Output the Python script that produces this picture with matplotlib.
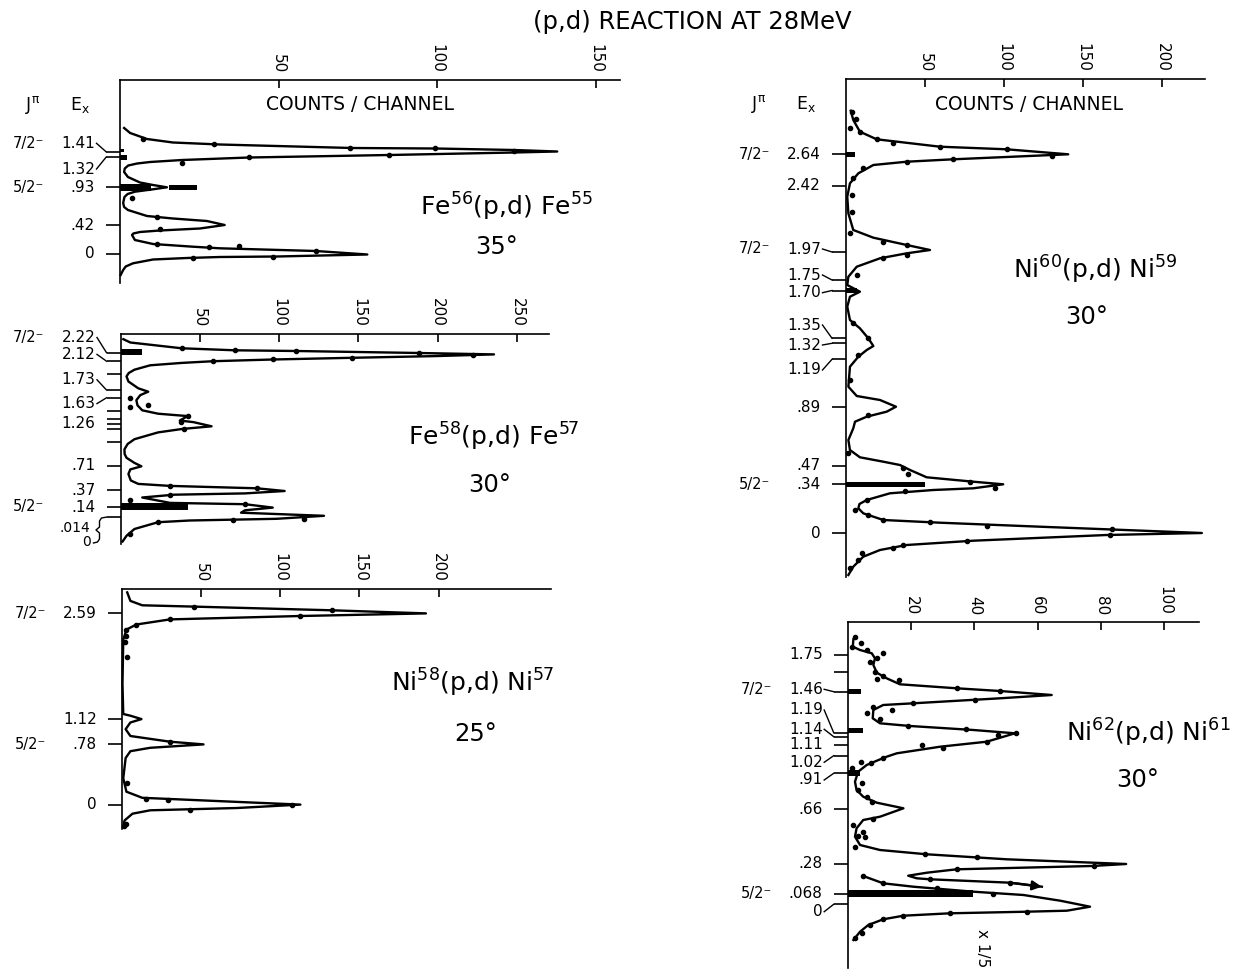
import matplotlib
matplotlib.use("Agg")
import matplotlib.pyplot as plt
from matplotlib import transforms

plt.rcParams['font.family'] = 'DejaVu Sans'
plt.rcParams['mathtext.default'] = 'regular'

# ---------------- data (counts on x, channel on y) ----------------

# Fe56(p,d)Fe55, 35 deg
fe56_curve_counts = [1.3, 3.2, 8.5, 16.7, 31.5, 73.2, 99.4, 124.3, 137.9, 124.3, 84.9, 40.7, 19.6, 9.5, 5.4,
                     2.6, 1.5, 1.3, 2.5, 6.3, 10.4, 14.8, 10.4, 4.7, 2.4, 1.4, 1.0, 1.3, 2.5, 8.5, 16.7, 27.4,
                     33, 25.2, 12.6, 6.3, 4.2, 3.8, 4.7, 10.4, 23, 31.5, 61.8, 78, 49.5, 31.5, 21.1, 10.4,
                     4.1, 1.8, 1.0, 0.2]
fe56_curve_ch = [48, 53, 59, 62.5, 64.5, 68, 68.5, 70, 71.5, 72.5, 75, 77.5, 80, 82, 83.5,
                 85.5, 88.5, 92, 97, 102.5, 105, 107.3, 109.3, 111.7, 114, 117, 123, 127, 130, 136, 138.5, 141,
                 145, 148.5, 150.5, 152, 153.5, 155, 160, 164, 166.7, 168.3, 171, 174.5, 176.5, 177, 178, 179.5,
                 183.3, 186.5, 190, 195]
fe56_dot_counts = [7.3, 29.7, 72.6, 99.4, 124.3, 84.9, 40.7, 19.5, 3.7, 11.8, 12.6, 11.7, 28, 37.5, 61.8, 48.3, 22.9]
fe56_dot_ch = [59.3, 64.3, 68, 68.5, 71, 75, 77.3, 82.7, 118.3, 136.7, 149, 164, 166.7, 166.4, 170.5, 177, 177.5]
fe56_bar_left = [0, 0, 0, 15.5]
fe56_bar_width = [1.3, 2.3, 9.7, 8.7]
fe56_bar_ch = [71, 77.5, 107.3, 107.5]
fe56_levels = ['1.41', '1.32', '.93', '.42', '0']
fe56_level_ch = [71.7, 77.3, 107.3, 145.3, 174]
fe56_jpi = ['7/2\u207b', '5/2\u207b']
fe56_xticks = [50, 100, 150]

# Fe58(p,d)Fe57, 30 deg
fe58_curve_counts = [1.8, 6.2, 38.7, 72.2, 110.9, 188.2, 235.5, 198.3, 145.8, 96, 58.6, 38.7, 18.7, 8.8,
                     5.2, 3.8, 5, 11.2, 17.5, 12.5, 10, 10.7, 13.7, 23.7, 42.4, 37.4, 46.2, 57.4, 38.7, 23.7,
                     8.8, 4.5, 2.5, 2.6, 3.8, 8.8, 13.2, 6.2, 5, 6.5, 11.2, 31.2, 86, 103.5, 78.5, 33.7, 13.7,
                     31.2, 78.5, 96, 78.5, 76, 128.3, 98.5, 43.6, 23.7, 8.8, 3.8, 1.3]
fe58_curve_ch = [5.2, 8.5, 14.3, 16.3, 17, 19, 20.4, 22.1, 23.8, 25.5, 27.2, 28.9, 31.3, 35.7,
                 39, 42.4, 47.5, 54.3, 57.7, 61.1, 66.2, 71.3, 76.3, 79.7, 82.1, 86.5, 88.2, 92.3, 95, 98.4,
                 105.2, 110, 115.3, 120, 123.8, 128.9, 132.3, 135.4, 140, 146.5, 149.9, 151.9, 154.3, 157, 159.4,
                 160.7, 163.5, 168.9, 170.2, 173.6, 176.3, 178.7, 181.8, 184.8, 186.5, 188.2, 195, 201.8, 207.5]
fe58_dot_counts = [38.7, 72.2, 110.9, 188.2, 222, 145.8, 96, 58.6, 6.2, 6.2, 17.5, 42.4, 40.3, 38,
                   31.2, 86, 31.2, 6.2, 78.5, 71, 115.7, 23.7, 6.2]
fe58_dot_ch = [14.3, 16.3, 17, 19, 21.3, 23.8, 25.5, 27.2, 64.5, 73, 71.3, 82, 95, 88,
               151.9, 154.3, 160.7, 166.2, 170.2, 185.5, 184.8, 188.2, 200]
fe58_bar_left = [0, 0]
fe58_bar_width = [13.7, 42.4]
fe58_bar_ch = [18.2, 172.3]
fe58_levels = ['2.22', '2.12', '1.73', '1.63', '1.26', '.71', '.37', '.14', '.014', '0']
fe58_level_ch = [18.7, 27.2, 56, 63.8, 89.9, 131.6, 156, 173, 183.1, 183.1]
fe58_extra_ticks = [40.1, 77, 85.5, 95, 108.5]
fe58_jpi = ['7/2\u207b', '5/2\u207b']
fe58_xticks = [50, 100, 150, 200, 250]

# Ni58(p,d)Ni57, 25 deg
ni58_curve_counts = [3.3, 5.3, 12.8, 45.3, 132.7, 192, 112.7, 30.3, 9.1, 2.8, 0.8, 0.3, 0.8, 5.3, 12.3,
                     5.3, 2.3, 5.3, 30.3, 51.5, 17.8, 5.3, 2.3, 0.8, 2.8, 12.8, 72.8, 112.7, 72.8, 17.8,
                     6.6, 1.6, 0.8]
ni58_curve_ch = [3.4, 11.9, 16.3, 17.6, 21.3, 24.4, 27, 30.4, 35.5, 40.6, 50.7, 94.6, 125, 126.7, 130.1,
                 133.5, 140.2, 147, 152.7, 155.4, 158.8, 162.2, 169, 189.2, 202.7, 208.8, 212.9, 215.6, 219, 221.3,
                 224.7, 231.5, 238.2]
ni58_dot_counts = [45.3, 132.7, 112.7, 30.3, 9.1, 2.8, 2.7, 2.2, 3.3, 30.3, 3.3, 15.2, 29, 42.8, 107.7, 2.3, 1.5]
ni58_dot_ch = [17.6, 21.3, 27, 30.4, 35.5, 40.6, 46.7, 52.5, 68.3, 152.7, 194.3, 209.5, 211, 220.7, 216.3, 234.8, 237]
ni58_levels = ['2.59', '1.12', '.78', '0']
ni58_level_ch = [24.4, 130, 155.4, 215.6]
ni58_jpi = ['7/2\u207b', '5/2\u207b']
ni58_xticks = [50, 100, 150, 200]

# Ni60(p,d)Ni59, 30 deg
ni60_curve_counts = [3, 4.6, 8.8, 19.4, 59.4, 101.6, 140.5, 67.8, 38.4, 17.3, 7.8, 2.5, 0.8, 1.5, 4.6,
                     17.3, 38.4, 53.1, 38.4, 21.5, 6.8, 1.5, 0.8, 8.8, 2.5, 0.8, 2.5, 8.8, 14.1, 17.3,
                     13.1, 7.8, 2.5, 1.5, 6.8, 21.5, 31.6, 25.7, 13.1, 5.7, 4.6, 1.5, 2.5, 8.8, 23.6,
                     34.1, 40.5, 51, 80.5, 99.4, 80.5, 55.2, 27.8, 13.1, 8.5, 7.8, 10.9, 23.6, 59.4, 122.6,
                     225, 164.8, 80.5, 38.4, 21.5, 10.9, 4.6, 1.5]
ni60_curve_ch = [31.7, 41, 52.7, 60.3, 67.7, 70.3, 75.3, 80.3, 82.7, 86, 94.3, 104.3, 117.7, 134.3, 151,
                 158.7, 166, 171, 174.3, 179.3, 187.7, 197.7, 206, 212.7, 217.7, 227.7, 241, 249.3, 259.3, 267,
                 271, 277.7, 287.7, 307.7, 317, 321, 327.7, 332.7, 337.7, 342.7, 349.3, 361, 371, 378.3, 382.7,
                 386, 391, 398.3, 402.7, 405.3, 409.3, 411, 414.3, 421, 425, 429.3, 434.3, 441, 443.7, 447.7,
                 454, 456, 461.7, 466, 471, 477.7, 487.7, 496]
ni60_dot_counts = [3.6, 6.1, 2.5, 8.8, 19.4, 29.9, 59.4, 101.6, 130, 67.8, 38.4, 10.9, 4.6, 3.6, 3.6,
                   2.5, 23.6, 38.4, 38.4, 23.6, 6.8, 4.6, 14.1, 7.8, 2.5, 14.1, 1.5, 36.2, 39.4, 78.4,
                   94.2, 37.3, 13.1, 5.7, 14.1, 23.6, 53.1, 88.9, 168, 166.9, 76.3, 36.2, 29.9, 9.9,
                   7.8, 2.5]
ni60_dot_ch = [32.7, 40, 49.3, 52.7, 60.3, 63.7, 67.7, 70.3, 77, 80.3, 82.7, 89.3, 99.3, 116, 132.7,
               153.7, 162.7, 166, 176, 179.3, 196, 244.3, 259.3, 276, 301, 336, 374.3, 389.3, 395, 402.7,
               408.7, 411.7, 421, 431, 436, 441, 442.7, 446.7, 450.3, 456, 461.7, 466, 469.3, 474.3,
               481, 489.3]
ni60_bar_left = [0, 0, 0]
ni60_bar_width = [5.7, 6.7, 50]
ni60_bar_ch = [75.2, 211.5, 405.5]
ni60_levels = ['2.64', '2.42', '1.97', '1.75', '1.70', '1.35', '1.32', '1.19', '.89', '.47', '.34', '0']
ni60_level_ch = [75.3, 106.7, 173, 201, 211.5, 259.3, 264.3, 280.3, 328.3, 386.7, 405.3, 454.3]
ni60_jpi = ['7/2\u207b', '7/2\u207b', '5/2\u207b']
ni60_xticks = [50, 100, 150, 200]

# Ni62(p,d)Ni61, 30 deg
ni62_curve_counts = [1.8, 1.6, 3.9, 7.6, 8.6, 8.1, 9.2, 12.3, 16.5, 34.4, 48.1, 64.4, 48.1, 20.7, 11.2,
                     8.1, 7.9, 10.2, 19.7, 39.7, 52.8, 43.9, 29.2, 15.5, 12.3, 9.2, 6, 3.3, 2.3, 2.8,
                     4.9, 9.2, 17.6, 10.2, 4.9, 2.8, 2.3, 3.9, 10.2, 25, 50.2, 87.9, 77.1, 34.4, 25,
                     19.1, 21.8, 26, 51.3, 61.3]
ni62_curve_ch = [17, 24.4, 27.7, 31, 36, 42.7, 50.4, 56, 62, 66, 68.7, 72.7, 76, 81, 82.7,
                 87.7, 96, 101, 103.7, 107.7, 111, 119.4, 124.4, 131, 134.4, 138.4, 142.7, 149.4, 159.4, 167.7,
                 174.4, 180.4, 186, 194.4, 197.7, 206, 214.4, 222.7, 227.7, 232, 237, 241.7, 243.7, 247, 250.4,
                 253.4, 256, 257, 260.4, 264.4]
ni62_fifth_counts = [4.9, 11.2, 20.7, 39.7, 55.5, 67.1, 76.5, 69.2, 56.5, 32.3, 17.6, 11.2, 6.5, 3.9, 1.8]
ni62_fifth_ch = [253.7, 261, 264.4, 269.4, 272.7, 278.4, 284.4, 288.4, 289.4, 291, 293.4, 297, 302.7, 309.4, 317.7]
ni62_dot_counts = [2.3, 4.1, 1.5, 6.2, 11.1, 9.2, 7, 8.6, 9.4, 11.2, 16.3, 34.4, 48.1, 40.2, 20.7,
                   8.1, 13.9, 6.2, 10.2, 19.1, 37.4, 47.6, 53.2, 43.9, 30, 23.4, 11.2, 7.4, 4.1, 1.3,
                   4.4, 3.3, 6, 7.6, 8.1, 1.6, 4.9, 3.3, 5.5, 2.3, 24.4, 40.7, 77.6, 34.4, 26,
                   51.3, 4.9, 11.2, 28.1, 46, 56.5, 32.3, 17.6, 11.2, 7, 4.4, 2.3]
ni62_dot_ch = [14.4, 21, 24.4, 27.7, 30.4, 36, 39.4, 49.4, 57, 53.7, 57.7, 65.4, 68.7, 77.7, 81,
               84.4, 87.7, 91, 97, 103.7, 107, 112.7, 111, 119.4, 126, 122.7, 136, 141, 139.4, 146,
               161, 167.7, 174.4, 179.4, 197, 202.7, 209.4, 213.7, 215, 224.4, 231.7, 234.4, 243.7, 247, 257,
               260.4, 253.7, 261, 265.4, 271.7, 289.4, 291, 293.7, 297, 302.7, 311, 316]
ni62_bar_left = [0, 0, 0, 0]
ni62_bar_width = [4.1, 4.7, 3.9, 39.7]
ni62_bar_ch = [69.4, 108.5, 151, 271]
ni62_levels = ['1.75', '1.46', '1.19', '1.14', '1.11', '1.02', '.91', '.66', '.28', '.068', '0']
ni62_level_ch = [32.7, 69.4, 110.4, 114.4, 122.7, 133.4, 151, 187, 241.7, 271.7, 282]
ni62_extra_ticks = [49.4]
ni62_jpi = ['7/2\u207b', '5/2\u207b']
ni62_xticks = [20, 40, 60, 80, 100]

# ---------------- layout ----------------
W, H = 1237, 969
fig = plt.figure(figsize=(W / 100, H / 100), dpi=100)
fig.patch.set_facecolor('white')

LW = 1.7


def add_panel(box, xmax, xticks, levels, level_ch, label_ch, jpi, jpi_ch,
              reaction, angle, react_at, angle_at, extra_ticks=(), header_ch=None,
              label_dx=None, label_fs=None):
    left, top, right, bottom = box
    wpx = right - left
    ax = fig.add_axes([left / W, 1 - bottom / H, wpx / W, (bottom - top) / H])
    ax.set_xlim(0, xmax)
    ax.set_ylim(bottom - top, 0)
    ax.patch.set_alpha(0)
    ax.spines[['right', 'bottom']].set_visible(False)
    ax.spines[['top', 'left']].set_linewidth(1.2)
    ax.xaxis.tick_top()
    ax.set_xticks(xticks)
    ax.set_xticklabels([str(t) for t in xticks], rotation=270, fontsize=11)
    ax.tick_params(axis='x', direction='in', length=6, width=1.2, pad=5)
    ax.set_yticks(sorted(set(level_ch) | set(extra_ticks)))
    ax.set_yticklabels([])
    ax.tick_params(axis='y', direction='out', length=10, width=1.2)

    trans = transforms.blended_transform_factory(ax.transAxes, ax.transData)

    def fx(px):
        return px / wpx

    if label_dx is None:
        label_dx = [-25] * len(levels)
    if label_fs is None:
        label_fs = [11] * len(levels)
    for txt, tick, lab, dx, fs in zip(levels, level_ch, label_ch, label_dx, label_fs):
        ax.text(fx(dx), lab, txt, ha='right', va='center', fontsize=fs, transform=trans)
        if abs(lab - tick) > 1 and dx == -25:
            ax.plot([fx(-23.5), fx(-14)], [lab, tick], color='k', lw=1.0,
                    transform=trans, clip_on=False)
    for txt, ch in zip(jpi, jpi_ch):
        ax.text(fx(-76), ch, txt, ha='right', va='center', fontsize=10.5, transform=trans)
    if header_ch is not None:
        ax.text(fx(-87), header_ch, r'J$^{\pi}$', ha='center', va='center', fontsize=12.5, transform=trans)
        ax.text(fx(-40), header_ch, r'E$_{x}$', ha='center', va='center', fontsize=12.5, transform=trans)
        ax.text(0.48 if wpx > 400 else 0.51, header_ch, 'COUNTS / CHANNEL', ha='center', va='center',
                fontsize=13.5, transform=trans)
    ax.text(react_at[0], react_at[1], reaction, ha='center', va='center', fontsize=18)
    ax.text(angle_at[0], angle_at[1], angle, ha='center', va='center', fontsize=17.5)
    return ax, trans, fx


def draw_spectrum(ax, cx, cy, dx, dy):
    ax.plot(cx, cy, color='k', lw=LW, clip_on=False, solid_joinstyle='round')
    ax.plot(dx, dy, 'o', ms=3.0, color='k', clip_on=False, zorder=3)


def draw_bars(ax, bl, bw, bc, thick):
    ax.barh(bc, bw, left=bl, height=thick, color='k', zorder=2)


fig.text(692 / W, 1 - 22 / H, '(p,d) REACTION AT 28MeV', ha='center', va='center', fontsize=17.5)

# Fe56
ax1, t1, f1 = add_panel((120, 80, 620, 283), 157.7, fe56_xticks, fe56_levels, fe56_level_ch,
                        [63.3, 89, 107.3, 145.3, 174], fe56_jpi, [63.3, 107.3],
                        r'Fe$^{56}$(p,d) Fe$^{55}$', '35\u00b0', (121.8, 127), (118.9, 167),
                        header_ch=25)
draw_spectrum(ax1, fe56_curve_counts, fe56_curve_ch, fe56_dot_counts, fe56_dot_ch)
draw_bars(ax1, fe56_bar_left, fe56_bar_width, fe56_bar_ch, [3, 5, 6.5, 5])

# Fe58
ax2, t2, f2 = add_panel((120.5, 334, 549, 544), 270.2, fe58_xticks, fe58_levels, fe58_level_ch,
                        [3.5, 20.4, 45.8, 69.6, 89.9, 131.6, 156.7, 173, 194, 208],
                        fe58_jpi, [3.5, 173],
                        r'Fe$^{58}$(p,d) Fe$^{57}$', '30\u00b0', (235.5, 103), (233, 151),
                        extra_ticks=fe58_extra_ticks,
                        label_dx=[-25] * 8 + [-30, -30],
                        label_fs=[11] * 8 + [10, 10])
draw_spectrum(ax2, fe58_curve_counts, fe58_curve_ch, fe58_dot_counts, fe58_dot_ch)
draw_bars(ax2, fe58_bar_left, fe58_bar_width, fe58_bar_ch, [5.7, 6.8])
# brace joining .014 and 0 to one tick
ax2.plot([f2(-14), f2(-19), f2(-21), f2(-21), f2(-24.5), f2(-21), f2(-21), f2(-23), f2(-27)],
         [183.1, 184, 187, 193, 196, 199, 205, 208, 209], color='k', lw=1.0,
         transform=t2, clip_on=False)

# Ni58
ax3, t3, f3 = add_panel((122, 589, 551, 829), 271, ni58_xticks, ni58_levels, ni58_level_ch,
                        ni58_level_ch, ni58_jpi, [24.4, 155.4],
                        r'Ni$^{58}$(p,d) Ni$^{57}$', '25\u00b0', (221.7, 94), (223.6, 145))
draw_spectrum(ax3, ni58_curve_counts, ni58_curve_ch, ni58_dot_counts, ni58_dot_ch)

# Ni60
ax4, t4, f4 = add_panel((846, 79, 1205, 577), 227, ni60_xticks, ni60_levels, ni60_level_ch,
                        [75.3, 106.7, 170, 196, 213.7, 246, 266, 291, 328.3, 386.7, 405.3, 454.3],
                        ni60_jpi, [75.3, 170, 405.3],
                        r'Ni$^{60}$(p,d) Ni$^{59}$', '30\u00b0', (157.4, 191), (152.3, 238),
                        header_ch=25)
draw_spectrum(ax4, ni60_curve_counts, ni60_curve_ch, ni60_dot_counts, ni60_dot_ch)
draw_bars(ax4, ni60_bar_left, ni60_bar_width, ni60_bar_ch, [5, 5, 5.6])

# Ni62
ax5, t5, f5 = add_panel((847.7, 622.3, 1199.3, 968), 111, ni62_xticks, ni62_levels, ni62_level_ch,
                        [32.7, 67, 87.7, 107, 122.7, 140, 157.7, 187, 241.7, 271.7, 289.4],
                        ni62_jpi, [67, 271.7],
                        r'Ni$^{62}$(p,d) Ni$^{61}$', '30\u00b0', (94.9, 110.7), (91.4, 157.7),
                        extra_ticks=ni62_extra_ticks)
draw_spectrum(ax5, ni62_curve_counts, ni62_curve_ch, ni62_dot_counts, ni62_dot_ch)
ax5.plot(ni62_fifth_counts, ni62_fifth_ch, color='k', lw=LW, clip_on=False, solid_joinstyle='round')
ax5.annotate('', xy=(ni62_curve_counts[-1], ni62_curve_ch[-1]),
             xytext=(ni62_curve_counts[-2], ni62_curve_ch[-2]),
             arrowprops=dict(arrowstyle='-|>', color='k', lw=LW, mutation_scale=14,
                             shrinkA=0, shrinkB=0))
draw_bars(ax5, ni62_bar_left, ni62_bar_width, ni62_bar_ch, [4.7, 5, 6, 6.7])
ax5.text(42.4, 326, 'x 1/5', rotation=270, ha='center', va='center', fontsize=11)

fig.savefig('out.png', dpi=100, facecolor='white')
